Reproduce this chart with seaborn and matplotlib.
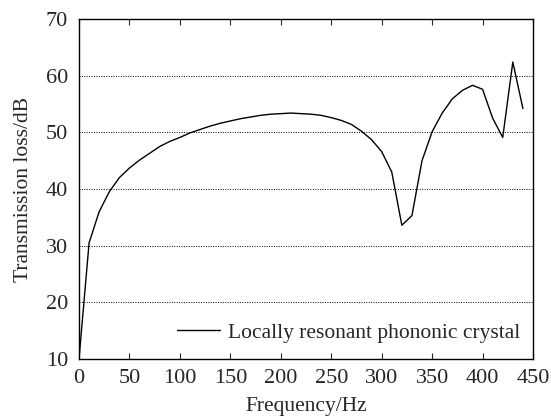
import matplotlib
matplotlib.use("Agg")
import matplotlib.pyplot as plt
import seaborn as sns
import pandas as pd

# frequency in Hz, transmission loss in dB
freq = [0, 10, 20, 30, 40, 50, 60, 70, 80, 90, 100, 110, 120, 130, 140, 150,
        160, 170, 180, 190, 200, 210, 220, 230, 240, 250, 260, 270, 280, 290,
        300, 310, 320, 330, 340, 350, 360, 370, 380, 390, 400, 410, 420, 430, 440]
loss = [10.0, 30.5, 36.0, 39.5, 42.0, 43.7, 45.1, 46.3, 47.5, 48.4, 49.1, 49.9,
        50.5, 51.1, 51.6, 52.0, 52.4, 52.7, 53.0, 53.2, 53.3, 53.4, 53.3, 53.2,
        53.0, 52.6, 52.1, 51.4, 50.2, 48.7, 46.6, 43.0, 33.6, 35.3, 45.0, 50.1,
        53.4, 55.9, 57.4, 58.3, 57.6, 52.5, 49.1, 62.4, 54.2]
series_name = "Locally resonant phononic crystal"

df = pd.DataFrame({"Frequency": freq, "Loss": loss})

sns.set_style("white")
plt.rcParams["font.family"] = ["Liberation Serif", "DejaVu Serif"]

fig = plt.figure(figsize=(5.51, 4.18), dpi=100)
ax = fig.add_axes([79 / 551, 1 - 359 / 418, (533 - 79) / 551, (359 - 19) / 418])

sns.lineplot(data=df, x="Frequency", y="Loss", ax=ax, color="black",
             linewidth=1.0, label=series_name)

ax.set_xlim(0, 450)
ax.set_ylim(10, 70)
ax.set_xticks(range(0, 451, 50))
ax.set_yticks(range(10, 71, 10))
for y in range(20, 70, 10):
    ax.axhline(y, color="black", linestyle=(0, (1, 1.5)), linewidth=0.7, zorder=0)

ax.tick_params(axis="x", direction="in", top=True, bottom=True, length=4,
               width=0.8, labelsize=16, pad=7)
ax.tick_params(axis="y", direction="in", left=False, right=False, labelsize=16, pad=8)
for s in ax.spines.values():
    s.set_color("black")
    s.set_linewidth(1.0)

ax.set_xlabel("Frequency/Hz", fontsize=15.5, labelpad=7)
ax.set_ylabel("Transmission loss/dB", fontsize=15.5, labelpad=9)

leg = ax.legend(loc="lower right", frameon=False, fontsize=15.5,
                handlelength=2.0, handletextpad=0.35,
                borderaxespad=0.2, bbox_to_anchor=(1.0, 0.01))

fig.savefig("out.png", dpi=100)
